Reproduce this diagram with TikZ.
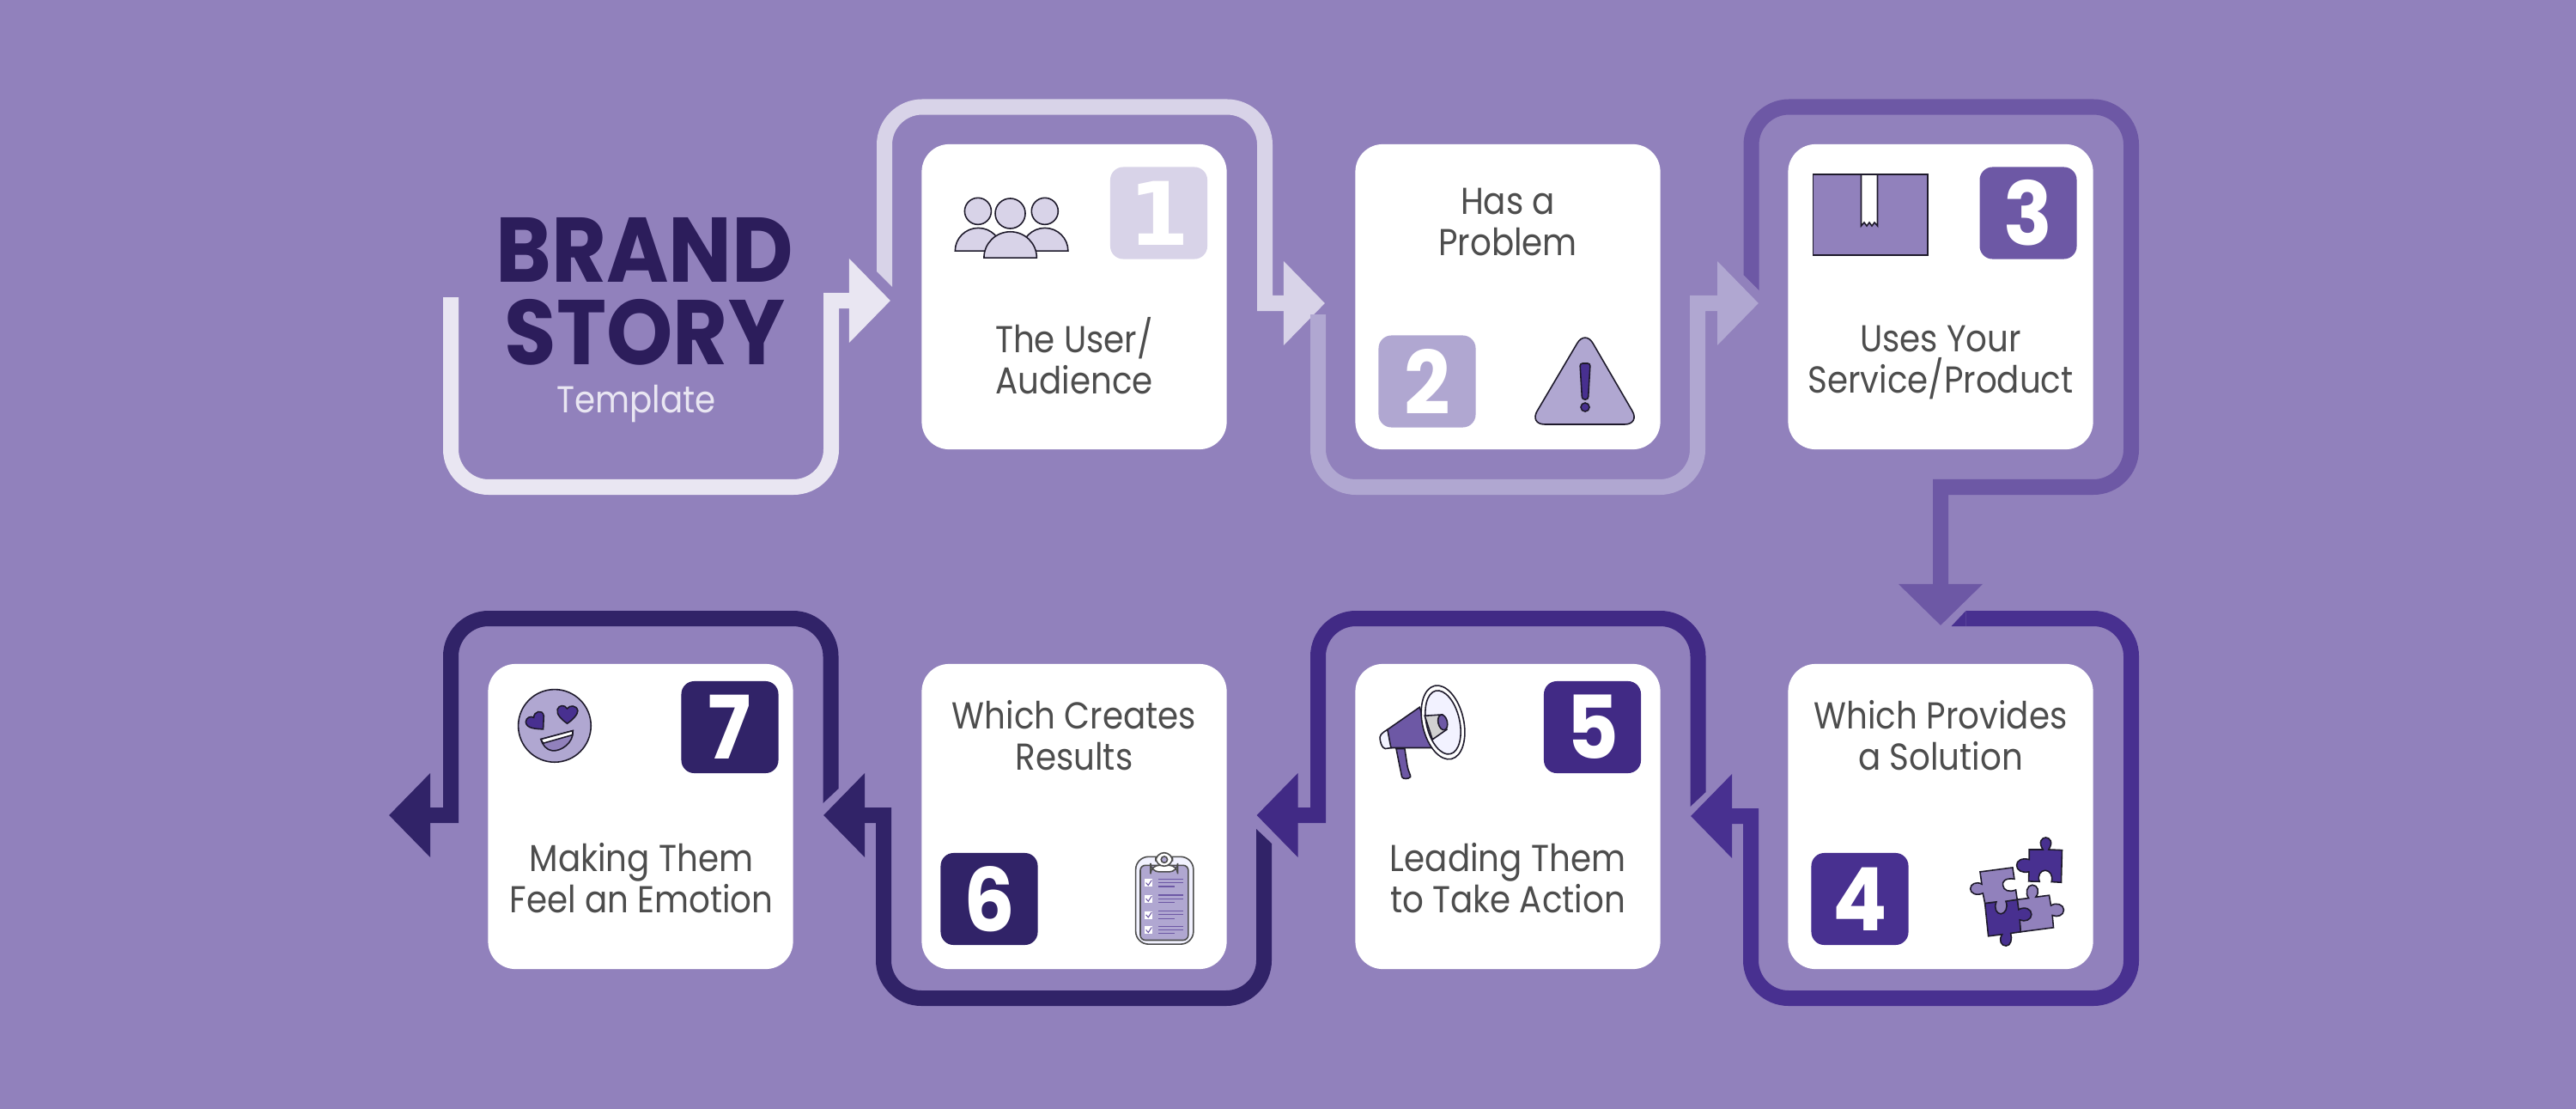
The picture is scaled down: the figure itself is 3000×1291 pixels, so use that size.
\documentclass[tikz,border=0pt]{standalone}
\usepackage{fontspec}
\usepackage{tikz}
\usepackage{xcolor}
\usetikzlibrary{arrows.meta}
\setmainfont{Poppins}[BoldFont=* Bold,UprightFeatures={FakeStretch=0.89},BoldFeatures={FakeStretch=0.92}]
\newfontfamily\onefont{DejaVu Sans}
\definecolor{backcol}{HTML}{9181BC}
\definecolor{titlecol}{HTML}{2C1D5B}
\definecolor{bodycol}{HTML}{4D4D4D}
\definecolor{linecol}{HTML}{1E1A2B}
\definecolor{tone0}{HTML}{E9E6F2}
\definecolor{tone1}{HTML}{D8D3E8}
\definecolor{tone2}{HTML}{B0A7D1}
\definecolor{tone3}{HTML}{6D58A5}
\definecolor{tone4}{HTML}{483090}
\definecolor{tone5}{HTML}{412A85}
\definecolor{tone6}{HTML}{312368}
\tikzset{
  flow/.style={line width=1.8mm,rounded corners=4.4mm,->},
  card/.style={fill=white,rounded corners=3.2mm,minimum width=3.55cm,minimum height=3.55cm,inner sep=0pt},
  badge/.style={rounded corners=1.5mm,minimum width=1.13cm,minimum height=1.07cm,inner sep=0pt,text=white,font=\bfseries\fontsize{29}{29}\selectfont},
  cardtext/.style={text=bodycol,align=center,inner sep=0pt,font=\fontsize{12.4}{13.65}\selectfont},
  icon/.style={draw=linecol,line width=0.45pt},
  zoomed/.style={x=0.003333cm,y=-0.003333cm}
}
\begin{document}
\begin{tikzpicture}[x=0.01cm,y=-0.01cm,>={Triangle[length=4.8mm,width=9.5mm]}]
        % Background
        \fill[backcol] (0,0) rectangle (3000,1291);
        \useasboundingbox (0,0) rectangle (3000,1291);

        % Title
        \node[text=titlecol,inner sep=0pt,font=\bfseries\fontsize{30.4}{30.4}\selectfont] (brand) at (751,291) {BRAND};
        \node[text=titlecol,inner sep=0pt,font=\bfseries\fontsize{30.4}{30.4}\selectfont] (story) at (751,387) {STORY};
        \node[text=tone0,inner sep=0pt,font=\fontsize{12.4}{13.65}\selectfont] (template) at (741,470) {Template};

        % Free ends of the flow lines
        \coordinate (start0) at (525,346);
        \coordinate (tip0) at (1037,350);
        \coordinate (start1) at (1030,316);
        \coordinate (tip1) at (1543,353);
        \coordinate (start2) at (1535,366);
        \coordinate (tip2) at (2048,353);
        \coordinate (start3) at (2039.5,320);
        \coordinate (tip3) at (2260,728);
        \coordinate (start4) at (2289.5,720);
        \coordinate (tip4) at (1969,950);
        \coordinate (start5) at (1977.5,922);
        \coordinate (tip5) at (1463.5,949);
        \coordinate (start6) at (1472,982);
        \coordinate (tip6) at (959,949);
        \coordinate (start7) at (967.5,918);
        \coordinate (tip7) at (453,949);

        % Draw flow lines
        \draw[flow,tone0] (start0) -- (525,567) -- (968,567) [sharp corners] -- (968,350) -- (tip0);
        \draw[flow,tone1] (start1) -- (1030,124.5) -- (1473,124.5) [sharp corners] -- (1473,353) -- (tip1);
        \fill[tone1] (start1) ++(-9,0) -- ++(18,0) -- ++(0,18) -- cycle;
        \draw[flow,tone2] (start2) -- (1535,567) -- (1977,567) [sharp corners] -- (1977,353) -- (tip2);
        \fill[tone2] (start2) ++(-9,0) -- ++(18,0) -- ++(-18,19) -- cycle;
        \draw[flow,tone3] (start3) -- (2039.5,124.5) -- (2482,124.5) -- (2482,567) [sharp corners] -- (2260,567) -- (tip3);
        \fill[tone3] (start3) ++(-9,0) -- ++(18,0) -- ++(0,18) -- cycle;
        \draw[flow,tone4] (start4) -- (2482,720) -- (2482,1162) -- (2039,1162) [sharp corners] -- (2039,950) -- (tip4);
        \fill[tone4] (start4) ++(0,-9) -- ++(0,18) -- ++(-17,0) -- cycle;
        \draw[flow,tone5] (start5) -- (1977.5,720) -- (1535,720) [sharp corners] -- (1535,949) -- (tip5);
        \fill[tone5] (start5) ++(-9,0) -- ++(18,0) -- ++(-18,17) -- cycle;
        \draw[flow,tone6] (start6) -- (1472,1162) -- (1029,1162) [sharp corners] -- (1029,949) -- (tip6);
        \fill[tone6] (start6) ++(-9,-17) -- ++(0,17) -- ++(18,0) -- cycle;
        \draw[flow,tone6] (start7) -- (967.5,720) -- (525,720) [sharp corners] -- (525,949) -- (tip7);
        \fill[tone6] (start7) ++(-9,0) -- ++(18,0) -- ++(-18,17) -- cycle;

        % Draw cards
        \node[card] (card1) at (1251,345.5) {};
        \node[card] (card2) at (1756,345.5) {};
        \node[card] (card3) at (2260,345.5) {};
        \node[card] (card4) at (2260,950.5) {};
        \node[card] (card5) at (1756,950.5) {};
        \node[card] (card6) at (1251,950.5) {};
        \node[card] (card7) at (746,950.5) {};

        % Number badges
        \node[badge,fill=tone1] (num1) at (1349.5,248) {\onefont\bfseries 1};
        \node[badge,fill=tone2] (num2) at (1662,444) {2};
        \node[badge,fill=tone3] (num3) at (2362,248) {3};
        \node[badge,fill=tone4] (num4) at (2166,1046.5) {4};
        \node[badge,fill=tone5] (num5) at (1854.5,846.5) {5};
        \node[badge,fill=tone6] (num6) at (1152,1046.5) {6};
        \node[badge,fill=tone6] (num7) at (850,846.5) {7};

        % Card labels
        \node[cardtext] (text1) at (1251,414) {The User/\\Audience};
        \node[cardtext] (text2) at (1756,258) {Has a\\Problem};
        \node[cardtext] (text3) at (2260,422) {Uses Your\\Service/Product};
        \node[cardtext] (text4) at (2260,856) {Which Provides\\a Solution};
        \node[cardtext] (text5) at (1756,1022) {Leading Them\\to Take Action};
        \node[cardtext] (text6) at (1251,856) {Which Creates\\Results};
        \node[cardtext] (text7) at (747,1022) {Making Them\\Feel an Emotion};

        % People icon
        \begin{scope}[shift={(1090,150)},zoomed]
            \draw[icon,fill=tone1] (147,288) circle[radius=0.155cm];
            \draw[icon,fill=tone1] (381,288) circle[radius=0.155cm];
            \draw[icon,fill=tone1] (260,296) circle[radius=0.175cm];
            \draw[icon,fill=tone1] (67,427) arc[start angle=180,end angle=0,x radius=0.27cm,y radius=0.267cm] -- cycle;
            \draw[icon,fill=tone1] (300,427) arc[start angle=180,end angle=0,x radius=0.27cm,y radius=0.267cm] -- cycle;
            \draw[icon,fill=tone1] (168,451) arc[start angle=180,end angle=0,x radius=0.307cm,y radius=0.303cm] -- cycle;
        \end{scope}

        % Warning icon
        \draw[icon,fill=tone2,rounded corners=1.8mm] (1846,384) -- (1781,494) -- (1910,494) -- cycle;
        \draw[icon,fill=tone4,rounded corners=0.3mm] (1840,423) -- (1852,423) -- (1849.5,465) -- (1842.5,465) -- cycle;
        \draw[icon,fill=tone4] (1846,474) circle[radius=0.05cm];

        % Box icon
        \draw[icon,fill=backcol] (2111.5,203) rectangle (2245,297);
        \draw[icon,fill=white] (2167.5,203) -- (2186.5,203) -- (2186.5,263) -- (2183,259) -- (2180,263) -- (2177,259) -- (2174,263) -- (2171,259) -- (2167.5,263) -- cycle;

        % Puzzle icon
        \begin{scope}[shift={(2270,960)},zoomed]
            \draw[icon,fill=tone4] (280,87) -- (328,87) .. controls (310,60) and (325,45) .. (338,45) .. controls (351,45) and (366,60) .. (348,87) -- (395,89) -- (392,202) -- (358,200) .. controls (365,175) and (350,160) .. (336,160) .. controls (322,160) and (307,175) .. (316,199) -- (278,198) -- (279,165) .. controls (255,170) and (236,160) .. (236,142) .. controls (236,125) and (255,115) .. (280,122) -- cycle;
            \draw[icon,fill=backcol] (238,262) -- (278,257) .. controls (265,240) and (272,211) .. (291,211) .. controls (310,211) and (318,235) .. (303,253) -- (350,247) -- (356,283) .. controls (375,270) and (401,280) .. (401,298) .. controls (401,318) and (378,325) .. (361,317) -- (365,360) -- (250,375) -- cycle;
            \draw[icon,fill=tone4] (125,275) -- (238,262) -- (243,297) .. controls (265,285) and (288,295) .. (288,314) .. controls (288,332) and (265,342) .. (247,333) -- (250,375) -- (215,380) .. controls (222,400) and (215,424) .. (199,424) .. controls (182,424) and (172,405) .. (185,384) -- (137,390) -- cycle;
            \draw[icon,fill=backcol] (108,165) -- (222,150) -- (228,190) .. controls (195,185) and (185,200) .. (188,212) .. controls (190,230) and (210,238) .. (233,228) -- (238,262) -- (198,268) .. controls (208,290) and (195,312) .. (181,312) .. controls (167,312) and (155,295) .. (165,270) -- (125,275) -- (118,240) .. controls (95,250) and (74,240) .. (74,224) .. controls (74,208) and (95,197) .. (114,208) -- cycle;
        \end{scope}

        % Megaphone icon
        \begin{scope}[shift={(1590,780)},zoomed]
            \draw[icon,fill=tone3] (108,275) -- (138,275) -- (147,335) .. controls (150,355) and (160,368) .. (158,374) .. controls (150,382) and (132,382) .. (128,374) -- cycle;
            \draw[icon,fill=white!95!blue] (78,208) .. controls (55,222) and (48,230) .. (52,245) .. controls (55,262) and (60,272) .. (70,275) -- (92,272) -- cycle;
            \draw[icon,fill=tone3] (190,130) -- (78,208) .. controls (82,230) and (85,250) .. (90,272) -- (240,272) -- cycle;
            \draw[icon,fill=white] (272,183) circle[x radius=0.24cm,y radius=0.437cm,rotate=13];
            \draw[icon,fill=white!95!blue] (272,183) circle[x radius=0.193cm,y radius=0.377cm,rotate=13];
            \draw[icon,fill=black!18] (208,160) -- (270,156) -- (285,208) -- (235,243) -- cycle;
            \draw[icon,fill=tone3] (271,183) circle[x radius=0.053cm,y radius=0.09cm,rotate=13];
        \end{scope}

        % Clipboard icon
        \begin{scope}[shift={(1300,980)},zoomed]
            \draw[icon,draw=bodycol,fill=white!95!blue,rounded corners=1.5mm] (68,52) rectangle (270,358);
            \draw[icon,draw=bodycol,fill=tone2,rounded corners=0.6mm] (84,82) rectangle (252,344);
            \draw[icon,draw=bodycol,fill=white,rounded corners=1mm] (120,82) rectangle (215,105);
            \draw[icon,draw=bodycol,fill=white,rounded corners=1mm] (138,38) rectangle (197,85);
            \draw[icon,draw=bodycol,fill=tone2] (168,62) circle[radius=0.037cm];
            \fill[white] (100,130) rectangle (127,157);
            \fill[white] (100,186) rectangle (127,213);
            \fill[white] (100,242) rectangle (127,269);
            \fill[white] (100,295) rectangle (127,322);
            \draw[tone3,line width=0.3pt] (104,143) -- (112,152) -- (124,134);
            \draw[tone3,line width=0.3pt] (104,199) -- (112,208) -- (124,190);
            \draw[tone3,line width=0.3pt] (104,255) -- (112,264) -- (124,246);
            \draw[tone3,line width=0.3pt] (104,308) -- (112,317) -- (124,299);
            \draw[tone3,line width=0.35pt] (148,130) -- (233,130) (148,143) -- (233,143) (148,156) -- (205,156);
            \draw[tone3,line width=0.35pt] (148,186) -- (233,186) (148,199) -- (233,199) (148,212) -- (205,212);
            \draw[tone3,line width=0.35pt] (148,242) -- (233,242) (148,255) -- (233,255) (148,268) -- (205,268);
            \draw[tone3,line width=0.35pt] (148,295) -- (233,295) (148,308) -- (233,308) (148,321) -- (205,321);
        \end{scope}

        % Face icon
        \begin{scope}[shift={(590,790)},zoomed]
            \draw[icon,fill=tone2] (168,165) circle[radius=0.423cm];
            \draw[icon,fill=tone4] (128,177) .. controls (100,175) and (70,175) .. (67,152) .. controls (68,135) and (85,130) .. (95,136) .. controls (95,115) and (125,105) .. (130,130) -- cycle;
            \draw[icon,fill=tone4] (212,157) .. controls (195,145) and (172,125) .. (178,107) .. controls (183,92) and (203,90) .. (212,105) .. controls (220,92) and (245,92) .. (249,112) .. controls (250,125) and (230,145) .. (212,157) -- cycle;
            \draw[icon,fill=backcol] (120,212) -- (232,182) .. controls (235,225) and (190,255) .. (160,252) .. controls (140,250) and (125,232) .. (120,212) -- cycle;
            \draw[icon,fill=white] (120,212) -- (232,182) -- (230,197) -- (128,226) -- cycle;
        \end{scope}
    \end{tikzpicture}
\end{document}
